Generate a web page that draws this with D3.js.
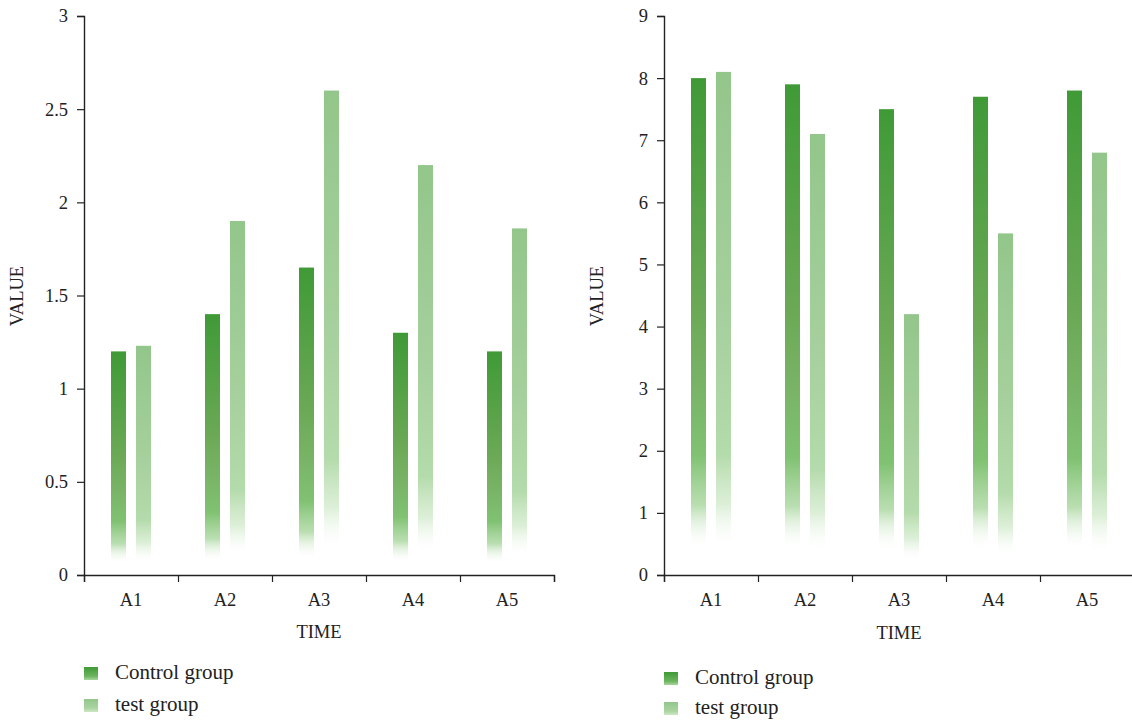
<!DOCTYPE html>
<html><head><meta charset="utf-8">
<script src="https://cdn.jsdelivr.net/npm/d3@7"></script>
<style>
html,body{margin:0;padding:0;background:#fff;}
svg text{font-family:'Liberation Serif','Times New Roman','DejaVu Serif',serif !important;}
</style></head>
<body><svg id="c" width="1132" height="720"></svg>
<script>
const categories = ["A1","A2","A3","A4","A5"];
const seriesNames = ["Control group","test group"];
const leftControl = [1.2, 1.4, 1.65, 1.3, 1.2];
const leftTest = [1.23, 1.9, 2.6, 2.2, 1.86];
const rightControl = [8.0, 7.9, 7.5, 7.7, 7.8];
const rightTest = [8.1, 7.1, 4.2, 5.5, 6.8];
const leftTicks = [0, 0.5, 1, 1.5, 2, 2.5, 3];
const rightTicks = [0, 1, 2, 3, 4, 5, 6, 7, 8, 9];

const FONT = "'Liberation Serif','Times New Roman','DejaVu Serif',serif";
const svg = d3.select("#c");
const defs = svg.append("defs");

function grad(id, stops){
  const g = defs.append("linearGradient").attr("id", id)
    .attr("x1",0).attr("y1",0).attr("x2",0).attr("y2",1);
  stops.forEach(s => g.append("stop").attr("offset", s[0]).attr("stop-color", s[1]).attr("stop-opacity", s[2]));
}
grad("gCtrl", [[0,"#3f9a36",1],[0.45,"#6aa855",1],[0.62,"#79b466",1],[0.76,"#80c272",1],[0.86,"#a8d69d",0.8],[0.95,"#ffffff",0]]);
grad("gTest", [[0,"#93c68b",1],[0.5,"#a6d09d",1],[0.76,"#b4dbab",1],[0.86,"#cde8c6",0.7],[0.95,"#ffffff",0]]);
grad("lgCtrl", [[0,"#3f9a36",1],[0.7,"#6bb45d",1],[1,"#a8d69d",1]]);
grad("lgTest", [[0,"#93c68b",1],[0.7,"#aad4a1",1],[1,"#cde8c6",1]]);

function chart(o){
  const g = svg.append("g");
  const y = d3.scaleLinear().domain([0, o.ymax]).range([575, 16]);
  const xb = d3.scaleBand().domain(categories).range([o.x0, o.x0 + 470]);
  const xl = d3.scaleLinear().domain([0, 5]).range([o.x0, o.x0 + 470]);
  const sub = d3.scaleBand().domain(seriesNames).range([-20, 20]).paddingInner(0.4);

  const data = [];
  categories.forEach((c,i)=>{
    data.push({c, s: seriesNames[0], v: o.ctrl[i], f: "url(#gCtrl)"});
    data.push({c, s: seriesNames[1], v: o.test[i], f: "url(#gTest)"});
  });
  g.selectAll("rect.bar").data(data).join("rect").attr("class","bar")
    .attr("x", d => xb(d.c) + xb.bandwidth()/2 + sub(d.s))
    .attr("width", sub.bandwidth())
    .attr("y", d => y(d.v))
    .attr("height", d => y(0) - y(d.v))
    .attr("fill", d => d.f);

  const ya = g.append("g").attr("transform", `translate(${o.x0},0)`)
    .call(d3.axisLeft(y).tickValues(o.ticks).tickSize(7).tickPadding(9).tickFormat(d3.format("")));
  const xa = g.append("g").attr("transform", `translate(0,${y(0)})`)
    .call(d3.axisBottom(xl).tickValues([0,1,2,3,4,5]).tickSize(7).tickFormat(""));
  const xa2 = g.append("g").attr("transform", `translate(0,${y(0)})`)
    .call(d3.axisBottom(xb).tickSize(0).tickPadding(18));
  xa2.select(".domain").remove();
  [ya, xa].forEach(a => {
    a.select(".domain").attr("stroke","#222").attr("stroke-width",1.4);
    a.selectAll(".tick line").attr("stroke","#222").attr("stroke-width",1.2);
  });
  [ya, xa, xa2].forEach(a => a.attr("font-family", FONT).attr("font-size", 18.5));
  g.selectAll(".tick text").attr("fill","#222");

  g.append("text").attr("transform", `translate(${o.x0 - 61},${296}) rotate(-90)`)
    .attr("text-anchor","middle").attr("fill","#222").attr("font-family", FONT).attr("font-size",18.5).text("VALUE");
  g.append("text").attr("x", o.x0 + 235).attr("y", o.timeY)
    .attr("text-anchor","middle").attr("fill","#222").attr("font-family", FONT).attr("font-size",18.5).text("TIME");

  const lg = g.append("g");
  seriesNames.forEach((s,i)=>{
    const yy = o.legY + i*o.legGap;
    lg.append("rect").attr("x", o.x0).attr("y", yy - 12).attr("width", 14).attr("height", 13)
      .attr("fill", i===0 ? "url(#lgCtrl)" : "url(#lgTest)");
    lg.append("text").attr("x", o.x0 + 31).attr("y", yy).attr("fill","#222")
      .attr("font-family", FONT).attr("font-size",21).text(s);
  });
}

chart({x0: 84, ymax: 3, ticks: leftTicks, ctrl: leftControl, test: leftTest, timeY: 638, legY: 679, legGap: 32});
chart({x0: 664, ymax: 9, ticks: rightTicks, ctrl: rightControl, test: rightTest, timeY: 639, legY: 684, legGap: 30});
</script></body></html>
